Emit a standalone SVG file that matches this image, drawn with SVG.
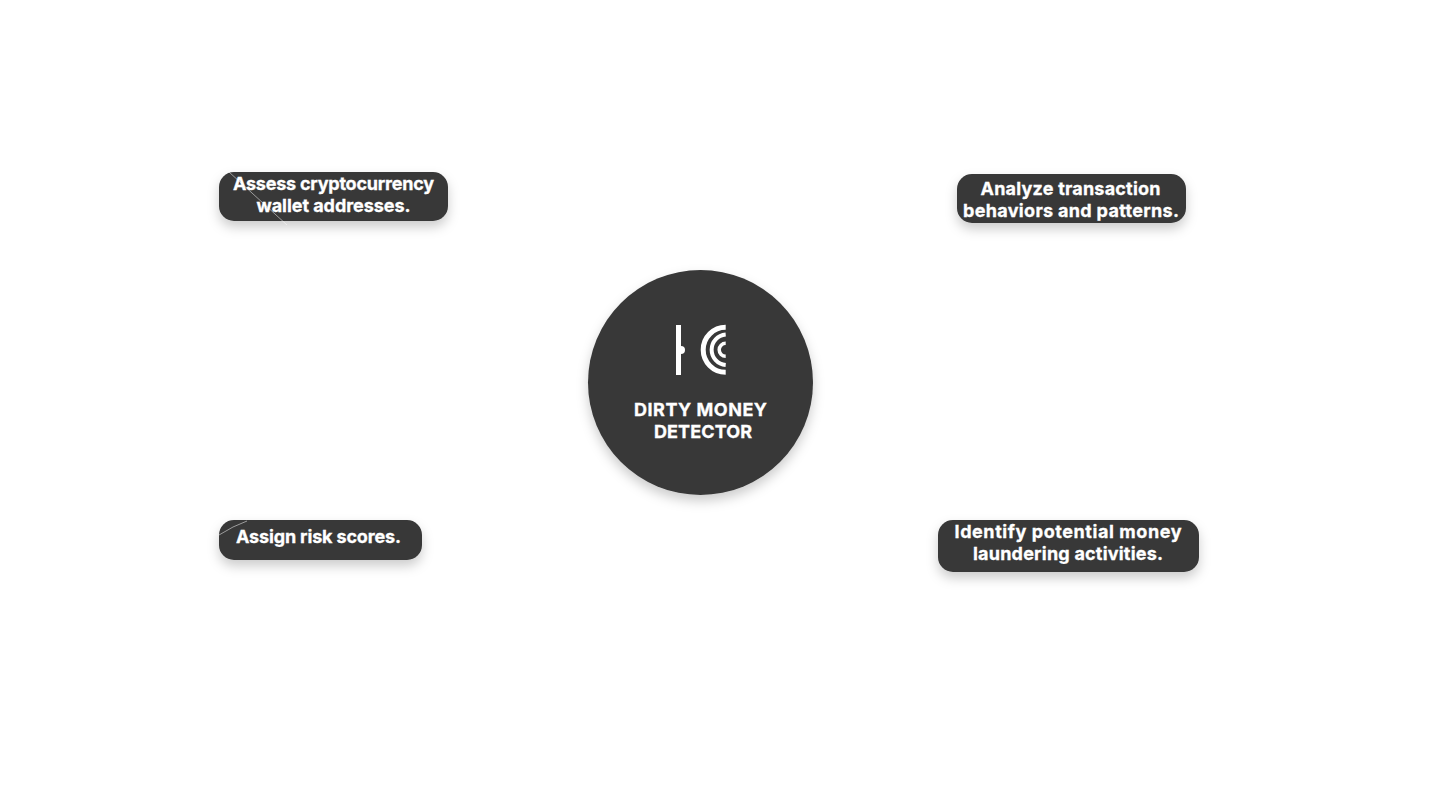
<svg xmlns="http://www.w3.org/2000/svg" width="1440" height="795" viewBox="0 0 1440 795">
<style>
.box{fill:#383838;filter:url(#sh)}
.t{fill:#fff;stroke:#fff;stroke-width:.3px;font-family:"Inter","Noto Sans",sans-serif;font-weight:700;font-size:18px;text-anchor:middle}
.arc{fill:none;stroke:#fff}
.c{fill:none;stroke:#fff;stroke-opacity:.5;stroke-width:1}
</style>
<defs>
<filter id="sh" x="-20%" y="-40%" width="140%" height="190%"><feDropShadow dx="0" dy="6" stdDeviation="6" flood-color="#000" flood-opacity=".2"/></filter>
</defs>
<rect width="1440" height="795" fill="#fff"/>
<g id="center">
<circle class="box" cx="700.5" cy="382.5" r="112.5"/>
<rect x="676" y="325" width="5" height="50" fill="#fff"/>
<path d="M681 346a4 4 0 0 1 0 8z" fill="#fff"/>
<path class="arc" stroke-width="5" d="M725.700 327.300a22.500 22.500 0 0 0 0 45"/>
<path class="arc" stroke-width="4" d="M725.700 334.500a15.300 15.300 0 0 0 0 30.500"/>
<path class="arc" stroke-width="3.500" d="M725.700 343.300a6.500 6.500 0 0 0 0 13"/>
<text class="t" x="700.500" y="416" textLength="133" lengthAdjust="spacing">DIRTY MONEY</text>
<text class="t" x="703" y="438" textLength="98" lengthAdjust="spacing">DETECTOR</text>
</g>
<g id="n1">
<rect class="box" x="219" y="172" width="229" height="49" rx="15"/>
<text class="t" x="333.500" y="190" textLength="201" lengthAdjust="spacing">Assess cryptocurrency</text>
<text class="t" x="333.500" y="212" textLength="154" lengthAdjust="spacing">wallet addresses.</text>
</g>
<g id="n2">
<rect class="box" x="957" y="174" width="229" height="49" rx="15"/>
<text class="t" x="1070.500" y="194.500" textLength="180" lengthAdjust="spacing">Analyze transaction</text>
<text class="t" x="1071" y="216.500" textLength="216" lengthAdjust="spacing">behaviors and patterns.</text>
</g>
<g id="n3">
<rect class="box" x="219" y="520" width="203" height="40" rx="15"/>
<text class="t" x="318.500" y="542.500" textLength="165" lengthAdjust="spacing">Assign risk scores.</text>
</g>
<g id="n4">
<rect class="box" x="938" y="520" width="261" height="52" rx="15"/>
<text class="t" x="1068" y="538" textLength="227" lengthAdjust="spacing">Identify potential money</text>
<text class="t" x="1068" y="560" textLength="190" lengthAdjust="spacing">laundering activities.</text>
</g>
<g id="connectors">
<path class="c" d="M229 172L287 225"/>
<path class="c" d="M219 535Q233 526 247 521"/>
</g>
</svg>
